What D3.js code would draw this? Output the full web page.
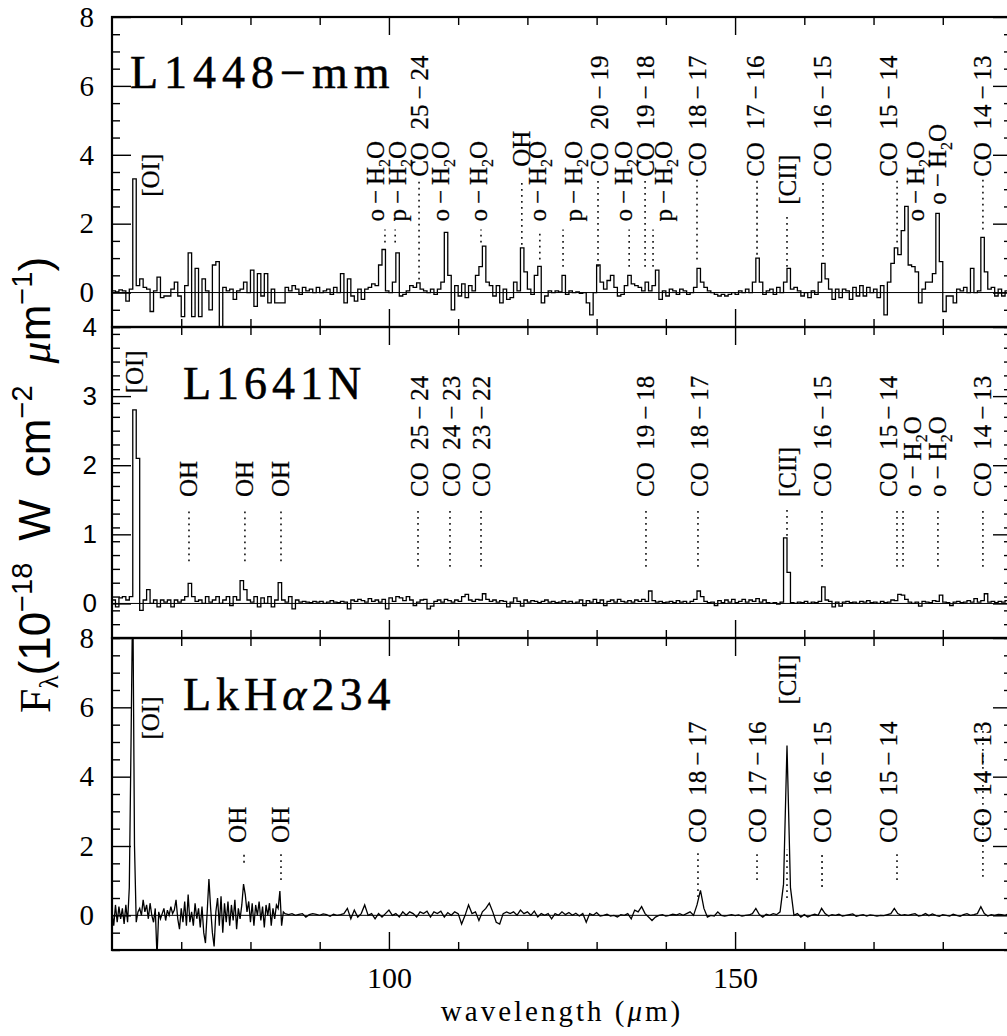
<!DOCTYPE html>
<html>
<head>
<meta charset="utf-8">
<script src="https://cdn.jsdelivr.net/npm/d3@7"></script>
<style>
  html, body { margin: 0; padding: 0; background: #fff; }
  svg { display: block; }
</style>
</head>
<body>
<svg id="chart" width="1007" height="1036"></svg>
<script>
// ---------------------------------------------------------------------------
// Far-infrared spectra (LWS) of three young stellar objects.
// Fluxes in units of 1e-18 W cm^-2 um^-1, wavelength in micron.
// ---------------------------------------------------------------------------
const wavelengthDomain = [60, 190];
const wavelengthTickLabels = [100, 150];

// L1448-mm : 0.5 um bins starting at 60 um
const l1448Start = 60, l1448Step = 0.5;
const l1448Flux = [
  0.05, 0.02, 0.08, 0.05, -0.25, 0.1, 3.3, 0.2, 0.4, 0.15,
  0.1, -0.55, 0.05, 0.45, -0.15, -0.1, -0.1, 0.1, 0.3, -0.1,
  -0.7, 0.2, 1.15, -0.7, 0.7, -0.7, 0.4, 0.05, -0.5, 0.8,
  0.9, -1.3, 0.15, 0.05, 0.1, -0.2, 0.05, 0.1, 0.3, 0.0,
  0.65, -0.4, 0.55, -0.1, 0.55, -0.3, 0.1, -0.3, -0.3, -0.3,
  0.15, 0.05, 0.2, 0.1, -0.05, 0.15, 0.05, 0.1, 0.0, 0.15,
  0.0, 0.05, 0.1, -0.05, 0.15, 0.0, 0.55, -0.3, 0.4, -0.1,
  -0.25, 0.1, -0.2, 0.1, 0.15, 0.25, 0.2, 0.8, 1.25, 0.05,
  0.0, 0.3, 1.15, -0.1, -0.05, 0.05, 0.2, 0.15, 0.28, 0.1,
  0.05, 0.0, 0.1, -0.05, 0.1, 0.3, 1.75, 0.5, -0.5, 0.2,
  -0.1, 0.25, -0.15, 0.2, 0.05, 0.5, 0.75, 1.35, 0.3, 0.2,
  -0.1, 0.2, -0.3, 0.1, -0.2, -0.15, 0.3, 0.05, 1.3, 0.6,
  0.1, -0.05, 0.5, 0.76, -0.3, -0.1, 0.05, 0.0, 0.05, 0.02,
  0.5, -0.05, 0.05, 0.0, 0.02, -0.02, 0.0, -0.3, -0.65, 0.0,
  0.8, 0.3, 0.1, 0.35, 0.5, 0.15, -0.1, -0.05, 0.2, 0.5,
  0.25, 0.2, 0.15, 0.05, 0.3, 0.05, 0.2, 0.65, -0.2, 0.05,
  -0.1, 0.1, 0.05, -0.05, 0.1, 0.05, -0.05, 0.0, 0.15, 0.7,
  0.3, 0.15, 0.05, 0.0, -0.05, -0.1, -0.05, -0.1, -0.05, 0.0,
  -0.05, 0.05, 0.0, 0.1, 0.0, 0.3, 1.0, 0.3, -0.05, 0.05,
  0.1, -0.05, 0.15, 0.0, 0.3, 0.7, 0.1, 0.15, 0.05, -0.1,
  0.0, -0.15, 0.05, -0.05, 0.3, 0.85, 0.4, 0.1, -0.2, 0.1,
  -0.15, 0.1, 0.05, -0.2, 0.15, -0.1, 0.2, -0.1, 0.15, 0.0,
  0.1, -0.15, 0.2, -0.65, 0.3, 0.85, 1.3, 1.1, 1.8, 2.5,
  0.8, 0.75, 0.6, -0.3, 0.1, 0.3, 0.3, 0.55, 2.3, 0.9,
  -0.55, -0.1, -0.1, -0.3, 0.1, 0.05, 0.15, 0.0, 0.7, 0.0,
  0.05, 1.6, 0.6, 0.1, 0.15, -0.1, 0.1, -0.1, 0.05, 0.1
];

// L1641N : 0.5 um bins starting at 60 um
const l1641Start = 60, l1641Step = 0.5;
const l1641Flux = [
  0.05, -0.05, 0.08, 0.1, 0.05, 0.1, 2.8, 2.1, -0.1, 0.05,
  0.2, 0.0, 0.05, -0.05, 0.05, 0.02, 0.05, -0.05, 0.05, 0.02,
  0.05, 0.1, 0.29, 0.1, 0.03, 0.05, 0.0, 0.1, 0.02, 0.05,
  0.1, 0.0, 0.05, 0.1, -0.03, 0.1, 0.05, 0.33, 0.2, 0.05,
  0.02, 0.1, -0.05, 0.08, 0.0, 0.1, -0.05, 0.05, 0.3, 0.05,
  0.02, 0.1, -0.08, 0.05, 0.02, 0.03, 0.02, 0.01, 0.03, 0.02,
  0.03, 0.0, 0.02, 0.04, 0.02, 0.01, 0.03, 0.02, -0.08, 0.05,
  0.03, 0.06, 0.04, 0.02, 0.07, 0.03, 0.05, 0.02, 0.06, -0.08,
  0.08, 0.03, 0.1, 0.08, 0.04, 0.1, 0.05, -0.03, 0.02, 0.05,
  0.06, -0.08, -0.04, 0.03, 0.05, 0.02, 0.06, 0.04, 0.02, 0.05,
  0.03, 0.1, 0.13, 0.05, 0.03, 0.06, 0.05, 0.14, 0.06, 0.03,
  0.05, 0.02, 0.04, 0.03, -0.05, 0.02, 0.08, 0.03, -0.04, 0.05,
  0.02, 0.04, 0.03, 0.01, 0.03, 0.05, 0.02, 0.03, 0.01, 0.02,
  0.04, 0.02, 0.03, 0.0, 0.02, 0.05, -0.03, 0.04, 0.02, 0.06,
  0.01, 0.05, -0.03, 0.03, 0.05, 0.02, 0.06, 0.03, 0.02, 0.04,
  0.02, 0.05, 0.03, 0.06, 0.03, 0.18, 0.04, 0.02, 0.03, 0.01,
  0.02, 0.03, 0.01, 0.04, 0.02, 0.03, 0.0, 0.03, 0.06, 0.18,
  0.1, 0.03, 0.01, 0.02, -0.03, 0.04, 0.01, 0.05, 0.02, 0.06,
  0.01, 0.03, 0.06, 0.02, 0.05, 0.03, 0.07, 0.02, 0.05, 0.01,
  0.0, 0.01, -0.01, 0.02, 0.95, 0.45, 0.01, 0.0, 0.02, 0.01,
  0.03, 0.0, 0.02, 0.01, 0.03, 0.24, 0.05, 0.03, -0.05, 0.02,
  -0.04, 0.02, 0.03, 0.01, 0.02, 0.0, 0.03, 0.02, 0.04, 0.01,
  0.02, 0.0, 0.03, 0.01, 0.02, 0.05, 0.04, 0.13, 0.12, 0.06,
  0.02, 0.0, 0.02, -0.04, 0.03, 0.02, 0.01, 0.04, 0.03, 0.12,
  0.02, 0.01, -0.03, 0.02, 0.03, 0.01, 0.02, 0.04, 0.02, 0.07,
  0.02, 0.04, 0.14, 0.02, 0.03, 0.01, 0.03, 0.02, 0.04, 0.02
];

// LkHa 234 : 0.25 um sampling below 85 um, 0.5 um sampling above
const lkhaBlueStart = 60, lkhaBlueStep = 0.25;
const lkhaBlueFlux = [
  0.1, -0.3, 0.3, -0.2, 0.25, -0.1, 0.2, -0.25, 0.3, -0.2,
  0.8, 5.0, 9.5, 2.0, -0.2, 0.1, 0.2, 0.0, 0.45, 0.1,
  0.3, -0.1, 0.35, 0.0, -0.2, 0.2, -1.2, 0.1, -0.1, 0.05,
  0.2, -0.15, 0.15, 0.0, 0.25, 0.05, 0.15, 0.45, -0.1, -0.4,
  0.2, -0.2, 0.4, -0.3, 0.6, -0.2, 0.1, -0.3, 0.35, -0.1,
  0.2, -0.35, 0.25, -0.5, -0.8, 0.1, 1.05, 0.2, -0.5, -0.9,
  0.1, 0.5, -0.3, 0.55, -0.5, 0.35, -0.2, 0.4, -0.3, 0.3,
  -0.15, 0.45, -0.4, 0.2, -0.1, 0.3, 0.9, 0.6, 0.1, 0.4,
  -0.2, 0.35, -0.3, 0.3, 0.0, 0.4, -0.15, 0.25, -0.35, 0.3,
  0.0, 0.35, -0.3, 0.2, -0.1, 0.3, 0.2, 0.7, -0.3, 0.1
];
const lkhaRedStart = 85, lkhaRedStep = 0.5;
const lkhaRedFlux = [
  0.05, 0.02, 0.05, 0.0, 0.03, 0.05, -0.05, 0.02, 0.05, 0.03,
  0.0, 0.04, 0.02, -0.03, 0.03, 0.0, 0.02, 0.05, 0.2, -0.1,
  0.15, -0.05, 0.05, 0.3, 0.0, 0.05, -0.1, 0.05, -0.05, 0.05,
  0.15, 0.0, 0.05, -0.05, 0.1, 0.0, 0.1, 0.05, -0.05, 0.1,
  0.05, 0.12, -0.05, 0.1, 0.05, 0.12, -0.05, 0.08, 0.0, 0.1,
  0.05, -0.25, 0.0, 0.3, 0.05, 0.1, -0.15, 0.1, 0.2, 0.35,
  0.1, -0.2, -0.25, 0.05, 0.1, 0.05, 0.1, 0.0, 0.15, 0.05,
  0.1, 0.0, 0.12, -0.05, 0.05, 0.0, 0.05, -0.1, 0.05, 0.0,
  0.1, 0.02, 0.08, 0.0, 0.06, -0.02, 0.05, -0.2, 0.05, 0.0,
  0.08, -0.02, 0.0, 0.03, -0.02, 0.0, -0.05, 0.02, 0.0, 0.05,
  -0.1, 0.15, 0.1, 0.25, 0.05, -0.05, -0.15, -0.05, 0.0, 0.02,
  -0.02, 0.0, 0.03, 0.01, 0.05, 0.0, 0.05, 0.1, 0.0, 0.3,
  0.72, 0.2, -0.05, 0.0, -0.02, 0.1, 0.0, -0.02, 0.0, 0.02,
  -0.01, 0.01, -0.02, 0.0, 0.01, 0.05, 0.2, 0.02, -0.05, 0.03,
  0.0, 0.05, 0.02, 0.1, 0.9, 4.9, 0.8, 0.0, 0.05, -0.05,
  0.02, -0.05, 0.0, 0.03, 0.0, 0.2, 0.05, -0.02, 0.02, 0.0,
  0.03, -0.02, 0.0, 0.02, 0.04, -0.03, 0.0, 0.02, -0.02, 0.01,
  0.0, -0.02, 0.0, -0.01, 0.02, 0.05, 0.2, 0.05, 0.0, 0.02,
  0.0, 0.03, 0.05, -0.02, 0.0, 0.05, -0.01, 0.04, 0.0, -0.03,
  0.02, 0.0, -0.02, 0.03, 0.0, -0.03, 0.02, 0.05, 0.0, 0.02,
  0.05, 0.25, 0.05, -0.02, 0.02, 0.0, 0.03, 0.02, 0.0, 0.04
];

// Line identifications: label text, line wavelength, label wavelength,
// flux level where the label starts, flux range of the dotted marker.
const l1448Lines = [
  ["[OI]",      63.18, 65.5,  2.78, null],
  ["o−H2O",     99.43, 98.0,  2.06, [1.45, 1.83]],
  ["p−H2O",    100.9, 101.17, 2.06, [1.45, 1.83]],
  ["CO 25−24", 104.35, 104.35, 3.36, [0.38, 3.28]],
  ["o−H2O",    108.0, 107.38, 2.06, null],
  ["o−H2O",    113.3, 112.87, 2.06, [1.45, 1.83]],
  ["OH",       119.2, 119.08, 3.65, [1.39, 3.28]],
  ["o−H2O",    121.8, 121.5,  2.06, [0.96, 1.83]],
  ["p−H2O",    125.15, 126.6, 2.06, [0.75, 1.83]],
  ["CO 20−19", 130.2, 130.35, 3.36, [0.75, 3.28]],
  ["o−H2O",    134.7, 133.95, 2.06, [0.75, 1.83]],
  ["CO 19−18", 137.0, 137.0,  3.36, [0.75, 3.28]],
  ["p−H2O",    138.15, 139.6, 2.06, [0.75, 1.83]],
  ["CO 18−17", 144.5, 144.5,  3.36, [0.96, 3.28]],
  ["CO 17−16", 153.17, 153.0, 3.36, [1.1, 3.28]],
  ["[CII]",    157.5, 157.5,  2.55, [0.75, 2.32]],
  ["CO 16−15", 162.7, 162.56, 3.36, [1.04, 3.28]],
  ["CO 15−14", 173.4, 172.2,  3.36, [1.45, 3.28]],
  ["o−H2O",    174.6, 176.0,  2.06, null],
  ["o−H2O",    179.3, 179.3,  2.55, null],
  ["CO 14−13", 185.8, 185.8,  3.36, [1.83, 3.28]]
];
const l1641Lines = [
  ["[OI]",      63.18, 63.18, 3.04, null],
  ["OH",        71.12, 71.12, 1.54, [0.61, 1.39]],
  ["OH",        79.2,  79.2,  1.54, [0.61, 1.39]],
  ["OH",        84.41, 84.41, 1.54, [0.61, 1.39]],
  ["CO 25−24", 104.2, 104.35, 1.54, [0.53, 1.39]],
  ["CO 24−23", 108.82, 108.97, 1.54, [0.53, 1.39]],
  ["CO 23−22", 113.3, 113.3,  1.54, [0.53, 1.39]],
  ["CO 19−18", 137.13, 137.13, 1.54, [0.53, 1.39]],
  ["CO 18−17", 144.64, 144.79, 1.54, [0.53, 1.39]],
  ["[CII]",    157.5, 157.5,  1.54, [0.98, 1.39]],
  ["CO 16−15", 162.56, 162.56, 1.54, [0.53, 1.39]],
  ["CO 15−14", 173.39, 172.2, 1.54, [0.53, 1.39]],
  ["o−H2O",    174.26, 175.56, 1.54, [0.53, 1.39]],
  ["o−H2O",    179.3, 179.17, 1.54, [0.53, 1.39]],
  ["CO 14−13", 185.8, 185.8,  1.54, [0.53, 1.39]]
];
const lkhaLines = [
  ["[OI]",      63.18, 65.63, 5.07, null],
  ["OH",        79.07, 78.06, 2.09, [1.52, 1.8]],
  ["OH",        84.41, 84.41, 2.09, [1.02, 1.8]],
  ["CO 18−17", 144.64, 144.64, 2.09, [0.53, 1.8]],
  ["CO 17−16", 153.17, 153.17, 2.09, [1.02, 1.8]],
  ["[CII]",    157.5, 157.5,  6.08, [0.5, 1.89]],
  ["CO 16−15", 162.56, 162.56, 2.09, [0.82, 1.8]],
  ["CO 15−14", 173.39, 172.2, 2.09, [1.02, 1.8]],
  ["CO 14−13", 185.8, 185.8,  2.09, [1.11, 5.4]]
];

// ---------------------------------------------------------------------------
const SERIF = "'Liberation Serif', 'Times New Roman', serif";
const SANS = "'Liberation Sans', Arial, Helvetica, sans-serif";

const svg = d3.select("#chart");
const plotLeft = 112, plotRight = 1012;
const x = d3.scaleLinear().domain(wavelengthDomain).range([plotLeft, plotRight]);

function binned(start, step, flux) {
  const pts = flux.map((v, i) => [start + i * step, v]);
  pts.push([start + flux.length * step, flux[flux.length - 1]]);
  return pts;
}
function sampled(start, step, flux) {
  return flux.map((v, i) => [start + i * step, v]);
}

const panels = [
  {
    id: "p1", top: 17, bottom: 327, yDomain: [-1, 8],
    major: [0, 2, 4, 6, 8], minorStep: 0.5, labelFont: SERIF, labelSize: 29, labelPad: 18,
    points: binned(l1448Start, l1448Step, l1448Flux), curve: d3.curveStepAfter,
    lines: l1448Lines,
    title: [{t: "L1448−mm"}], titleX: 130, titleY: 88, titleSpacing: 6
  },
  {
    id: "p2", top: 327, bottom: 638, yDomain: [-0.5, 4],
    major: [0, 1, 2, 3, 4], minorStep: 0.2, labelFont: SANS, labelSize: 26, labelPad: 15,
    points: binned(l1641Start, l1641Step, l1641Flux), curve: d3.curveStepAfter,
    lines: l1641Lines,
    title: [{t: "L1641N"}], titleX: 183, titleY: 399, titleSpacing: 5
  },
  {
    id: "p3", top: 638, bottom: 950, yDomain: [-1, 8],
    major: [0, 2, 4, 6, 8], minorStep: 0.5, labelFont: SERIF, labelSize: 29, labelPad: 18,
    points: sampled(lkhaBlueStart, lkhaBlueStep, lkhaBlueFlux)
      .concat(sampled(lkhaRedStart, lkhaRedStep, lkhaRedFlux)),
    curve: d3.curveLinear,
    lines: lkhaLines,
    title: [{t: "LkH"}, {t: "α", italic: true}, {t: "234"}], titleX: 183, titleY: 710, titleSpacing: 5
  }
];

const xMajor = d3.range(70, 190, 10);
const xLong = [100, 150];
const xShort = xMajor.filter(v => !xLong.includes(v));

function styleTicks(g) {
  g.select(".domain").remove();
  g.selectAll(".tick line").attr("stroke", "#000").attr("stroke-width", 1.4);
  return g;
}

function addLineLabel(parent, text, px, py) {
  const t = parent.append("text")
    .attr("transform", `translate(${px},${py}) rotate(-90)`)
    .attr("dy", "0.34em")
    .attr("font-family", SERIF)
    .attr("font-size", 25)
    .attr("stroke", "#000").attr("stroke-width", 0.25)
    .attr("fill", "#000");
  const fmt = s => s.replace("−", "\u2009−\u2009").replace("CO ", "CO\u2002");
  const m = text.match(/^(.*H)2(O)$/);
  if (m) {
    t.append("tspan").text(fmt(m[1]));
    t.append("tspan").attr("dy", 6).attr("font-size", 16).text("2");
    t.append("tspan").attr("dy", -6).text(m[2]);
  } else {
    t.text(fmt(text));
  }
}

panels.forEach(p => {
  const y = d3.scaleLinear().domain(p.yDomain).range([p.bottom, p.top]);
  const g = svg.append("g").attr("class", "panel");

  g.append("clipPath").attr("id", "clip-" + p.id)
    .append("rect").attr("x", plotLeft).attr("y", p.top)
    .attr("width", plotRight - plotLeft).attr("height", p.bottom - p.top);

  // zero level
  g.append("line")
    .attr("x1", plotLeft).attr("x2", plotRight)
    .attr("y1", y(0)).attr("y2", y(0))
    .attr("stroke", "#000").attr("stroke-width", 1);

  // spectrum
  g.append("path")
    .datum(p.points)
    .attr("clip-path", `url(#clip-${p.id})`)
    .attr("fill", "none")
    .attr("stroke", "#000")
    .attr("stroke-width", 1.3)
    .attr("stroke-linejoin", "miter")
    .attr("d", d3.line().x(d => x(d[0])).y(d => y(d[1])).curve(p.curve));

  // line identifications
  p.lines.forEach(([label, lam, at, y0, lead]) => {
    if (lead) {
      g.append("line")
        .attr("x1", x(lam)).attr("x2", x(lam))
        .attr("y1", y(lead[0])).attr("y2", y(lead[1]))
        .attr("stroke", "#000").attr("stroke-width", 1.5)
        .attr("stroke-dasharray", "1.8,4.2");
    }
    addLineLabel(g, label, x(at), y(y0));
  });

  // y ticks (inward on both sides)
  const yMinor = d3.range(p.yDomain[0], p.yDomain[1] + 1e-9, p.minorStep)
    .map(v => +v.toFixed(3))
    .filter(v => !p.major.some(m => Math.abs(m - v) < 1e-6));
  g.append("g").attr("transform", `translate(${plotLeft},0)`)
    .call(d3.axisRight(y).tickValues(p.major).tickSize(19).tickFormat("")).call(styleTicks);
  g.append("g").attr("transform", `translate(${plotLeft},0)`)
    .call(d3.axisRight(y).tickValues(yMinor).tickSize(8).tickFormat("")).call(styleTicks);
  g.append("g").attr("transform", `translate(${plotRight},0)`)
    .call(d3.axisLeft(y).tickValues(p.major).tickSize(19).tickFormat("")).call(styleTicks);
  g.append("g").attr("transform", `translate(${plotRight},0)`)
    .call(d3.axisLeft(y).tickValues(yMinor).tickSize(8).tickFormat("")).call(styleTicks);

  // y tick labels
  const yl = g.append("g").attr("transform", `translate(${plotLeft},0)`)
    .call(d3.axisLeft(y).tickValues(p.major).tickSize(0).tickPadding(p.labelPad).tickFormat(d3.format("d")));
  yl.select(".domain").remove();
  yl.selectAll("text").attr("font-family", p.labelFont).attr("font-size", p.labelSize).attr("fill", "#000");

  // x ticks on top and bottom edges
  g.append("g").attr("transform", `translate(0,${p.top})`)
    .call(d3.axisBottom(x).tickValues(xLong).tickSize(18).tickFormat("")).call(styleTicks);
  g.append("g").attr("transform", `translate(0,${p.top})`)
    .call(d3.axisBottom(x).tickValues(xShort).tickSize(8).tickFormat("")).call(styleTicks);
  g.append("g").attr("transform", `translate(0,${p.bottom})`)
    .call(d3.axisTop(x).tickValues(xLong).tickSize(18).tickFormat("")).call(styleTicks);
  g.append("g").attr("transform", `translate(0,${p.bottom})`)
    .call(d3.axisTop(x).tickValues(xShort).tickSize(8).tickFormat("")).call(styleTicks);

  // frame
  g.append("rect")
    .attr("x", plotLeft).attr("y", p.top)
    .attr("width", plotRight - plotLeft).attr("height", p.bottom - p.top)
    .attr("fill", "none").attr("stroke", "#000").attr("stroke-width", 2.2);

  // source name
  const tt = g.append("text")
    .attr("x", p.titleX).attr("y", p.titleY)
    .attr("font-family", SERIF).attr("font-size", 46)
    .attr("stroke", "#000").attr("stroke-width", 0.5)
    .attr("letter-spacing", p.titleSpacing).attr("fill", "#000");
  p.title.forEach(s => {
    const ts = tt.append("tspan").text(s.t);
    if (s.italic) ts.attr("font-style", "italic");
  });
});

// x tick labels
const xl = svg.append("g").attr("transform", `translate(0,950)`)
  .call(d3.axisBottom(x).tickValues(wavelengthTickLabels).tickSize(0).tickPadding(17).tickFormat(d3.format("d")));
xl.select(".domain").remove();
xl.selectAll("text").attr("font-family", SERIF).attr("font-size", 30).attr("fill", "#000");

// x axis title
const xt = svg.append("text")
  .attr("x", (plotLeft + plotRight) / 2).attr("y", 1021)
  .attr("text-anchor", "middle")
  .attr("font-family", SERIF).attr("font-size", 29)
  .attr("letter-spacing", 3).attr("fill", "#000");
xt.append("tspan").text("wavelength (");
xt.append("tspan").attr("font-style", "italic").text("μ");
xt.append("tspan").text("m)");

// y axis title
const yt = svg.append("text")
  .attr("transform", "translate(50,485) rotate(-90)")
  .attr("text-anchor", "middle")
  .attr("font-family", SANS).attr("font-size", 44)
  .attr("fill", "#000");
yt.append("tspan").attr("font-family", SERIF).text("F");
yt.append("tspan").attr("dy", 8).attr("font-size", 27).attr("font-family", SERIF).text("λ");
yt.append("tspan").attr("dy", -8).text("(10");
yt.append("tspan").attr("dy", -18).attr("font-size", 29).text("−18");
yt.append("tspan").attr("dy", 18).text("\u2002W\u2002cm");
yt.append("tspan").attr("dy", -18).attr("font-size", 29).text("−2");
yt.append("tspan").attr("dy", 18).text("\u2002");
yt.append("tspan").attr("font-style", "italic").attr("font-family", SERIF).text("μ");
yt.append("tspan").text("m");
yt.append("tspan").attr("dy", -18).attr("font-size", 29).text("−1");
yt.append("tspan").attr("dy", 18).text(")");
</script>
</body>
</html>
